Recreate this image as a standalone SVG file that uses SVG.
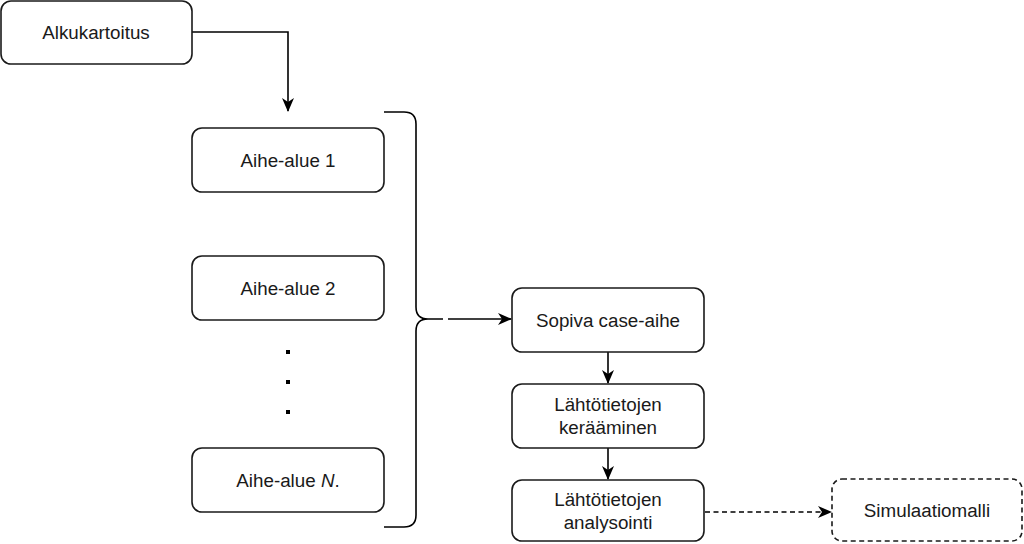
<svg xmlns="http://www.w3.org/2000/svg" width="1024" height="544" viewBox="0 0 1024 544">
<defs>
<marker id="arr" viewBox="0 0 14 12" refX="13" refY="6" markerWidth="14" markerHeight="12" markerUnits="userSpaceOnUse" orient="auto">
<path d="M0,0 L14,6 L0,12 L4,6 Z" fill="#000"/>
</marker>
</defs>
<style>
.box{fill:#fff;stroke:#1a1a1a;stroke-width:1.6}
.dash{stroke-dasharray:5 3.5}
.lbl{font-family:"Liberation Sans",Arial,sans-serif;font-size:18.8px;fill:#1a1a1a;text-anchor:middle}
.ln{fill:none;stroke:#000;stroke-width:1.6}
</style>
<rect width="1024" height="544" fill="#fff"/>
<g id="connectors">
<path class="ln" d="M192,32 H288 V111" marker-end="url(#arr)"/>
<path class="ln" d="M384,112 H404 Q416,112 416,124 V307 Q416,319 428,319 H443 M428,319 Q416,319 416,331 V515 Q416,527 404,527 H384"/>
<path class="ln" d="M448,319 H511" marker-end="url(#arr)"/>
<path class="ln" d="M608,352 V383" marker-end="url(#arr)"/>
<path class="ln" d="M608,448 V479" marker-end="url(#arr)"/>
<path class="ln dash" d="M705,512 H831" marker-end="url(#arr)"/>
</g>
<g id="alkukartoitus">
<rect class="box" x="1" y="1" width="191" height="63" rx="10"/>
<text class="lbl" x="96" y="39">Alkukartoitus</text>
</g>
<g id="aihe1">
<rect class="box" x="192" y="128" width="192" height="64" rx="10"/>
<text class="lbl" x="288" y="167">Aihe-alue 1</text>
</g>
<g id="aihe2">
<rect class="box" x="192" y="256" width="192" height="64" rx="10"/>
<text class="lbl" x="288" y="295">Aihe-alue 2</text>
</g>
<g id="dots">
<rect x="286" y="350" width="4" height="4" fill="#000"/>
<rect x="286" y="380" width="4" height="4" fill="#000"/>
<rect x="286" y="410" width="4" height="4" fill="#000"/>
</g>
<g id="aiheN">
<rect class="box" x="192" y="448" width="192" height="64" rx="10"/>
<text class="lbl" x="288" y="487">Aihe-alue <tspan font-style="italic">N</tspan>.</text>
</g>
<g id="sopiva">
<rect class="box" x="512" y="288" width="192" height="64" rx="10"/>
<text class="lbl" x="608" y="327">Sopiva case-aihe</text>
</g>
<g id="keraaminen">
<rect class="box" x="512" y="384" width="192" height="64" rx="10"/>
<text class="lbl" x="608" y="411">Lähtötietojen</text>
<text class="lbl" x="608" y="434">kerääminen</text>
</g>
<g id="analysointi">
<rect class="box" x="512" y="480" width="192" height="61" rx="10"/>
<text class="lbl" x="608" y="506">Lähtötietojen</text>
<text class="lbl" x="608" y="529">analysointi</text>
</g>
<g id="simulaatiomalli">
<rect class="box dash" x="832" y="479" width="190" height="62" rx="10"/>
<text class="lbl" x="927" y="517">Simulaatiomalli</text>
</g>
</svg>
